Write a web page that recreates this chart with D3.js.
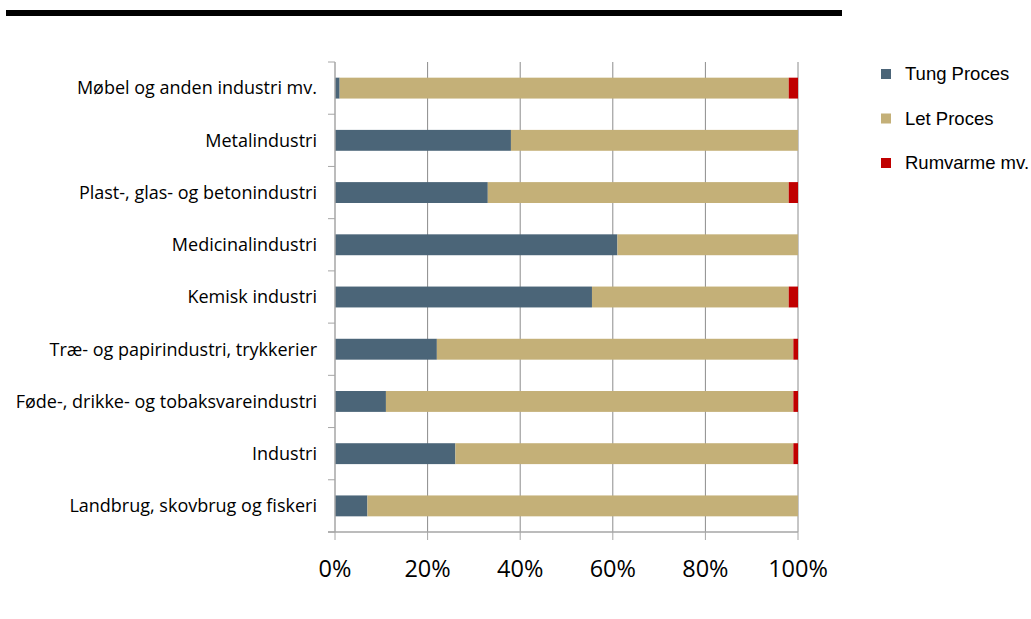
<!DOCTYPE html>
<html><head><meta charset="utf-8">
<script src="https://cdn.jsdelivr.net/npm/d3@7"></script>
<style>body{margin:0;background:#fff;}svg{display:block;}</style>
</head><body>
<svg id="c" width="1031" height="619"></svg>
<script>
const categories = ["Møbel og anden industri mv.","Metalindustri","Plast-, glas- og betonindustri","Medicinalindustri","Kemisk industri","Træ- og papirindustri, trykkerier","Føde-, drikke- og tobaksvareindustri","Industri","Landbrug, skovbrug og fiskeri"];
const seriesNames = ["Tung Proces","Let Proces","Rumvarme mv."];
const tungProces = [1, 38, 33, 61, 55.5, 22, 11, 26, 7];
const letProces  = [97, 62, 65, 39, 42.5, 77, 88, 73, 93];
const rumvarme   = [2, 0, 2, 0, 2, 1, 1, 1, 0];
const colors = ["#4b6578","#c4b078","#c00000"];
const xTicks = [0,0.2,0.4,0.6,0.8,1];

const svg = d3.select("#c");
const L=335,R=798,T=62,B=532;
const x = d3.scaleLinear().domain([0,1]).range([L,R]);
const y = d3.scaleBand().domain(categories).range([T,B]).paddingInner(0.6).paddingOuter(0.3);
const catFont = "'Open Sans', Lato, sans-serif";

svg.append("rect").attr("x",6).attr("y",10).attr("width",836).attr("height",6).attr("fill","#000");

svg.append("g").selectAll("line").data(xTicks.slice(1)).join("line")
  .attr("x1",d=>x(d)).attr("x2",d=>x(d)).attr("y1",T).attr("y2",B)
  .attr("stroke","#8c8c8c").attr("stroke-width",1);

const data = categories.map((c,i)=>{const t=tungProces[i]+letProces[i]+rumvarme[i];return {cat:c,v:[tungProces[i]/t,letProces[i]/t,rumvarme[i]/t]};});
const stack = [];
data.forEach(d=>{let acc=0;d.v.forEach((v,k)=>{stack.push({cat:d.cat,k,x0:acc,x1:acc+v});acc+=v;});});
svg.append("g").selectAll("rect").data(stack.filter(s=>s.x1>s.x0)).join("rect")
  .attr("x",d=>x(d.x0)).attr("width",d=>x(d.x1)-x(d.x0))
  .attr("y",d=>y(d.cat)).attr("height",y.bandwidth())
  .attr("fill",d=>colors[d.k]);

const ga = svg.append("g").attr("stroke","#a6a6a6");
ga.append("line").attr("x1",L).attr("x2",L).attr("y1",T).attr("y2",B).attr("stroke-width",1.5);
d3.range(categories.length+1).forEach(i=>{
  const yy = T + i*(B-T)/categories.length;
  ga.append("line").attr("x1",L-7).attr("x2",L).attr("y1",yy).attr("y2",yy);
});
ga.append("line").attr("x1",L-7).attr("x2",R).attr("y1",B).attr("y2",B).attr("stroke-width",1.5);
xTicks.forEach(t=>ga.append("line").attr("x1",x(t)).attr("x2",x(t)).attr("y1",B).attr("y2",B+8));

svg.append("g").selectAll("text").data(xTicks).join("text")
  .attr("x",d=>x(d)).attr("y",577).attr("text-anchor","middle")
  .attr("font-family",catFont).attr("font-size",23.5).attr("fill","#000")
  .text(d3.format(".0%"));

svg.append("g").selectAll("text").data(categories).join("text")
  .attr("x",317).attr("y",d=>y(d)+y.bandwidth()/2).attr("dy","0.35em").attr("text-anchor","end")
  .attr("font-family",catFont).attr("font-size",18).attr("fill","#000")
  .text(d=>d);

const lg = svg.append("g").selectAll("g").data(seriesNames).join("g")
  .attr("transform",(d,i)=>`translate(881,${74+i*44.5})`);
lg.append("rect").attr("x",0).attr("y",-5).attr("width",10).attr("height",10).attr("fill",(d,i)=>colors[i]);
lg.append("text").attr("x",24).attr("y",0).attr("dy","0.35em")
  .attr("font-family","'Liberation Sans', Arial, sans-serif").attr("font-size",18.5).attr("fill","#000").text(d=>d);
</script>
</body></html>
